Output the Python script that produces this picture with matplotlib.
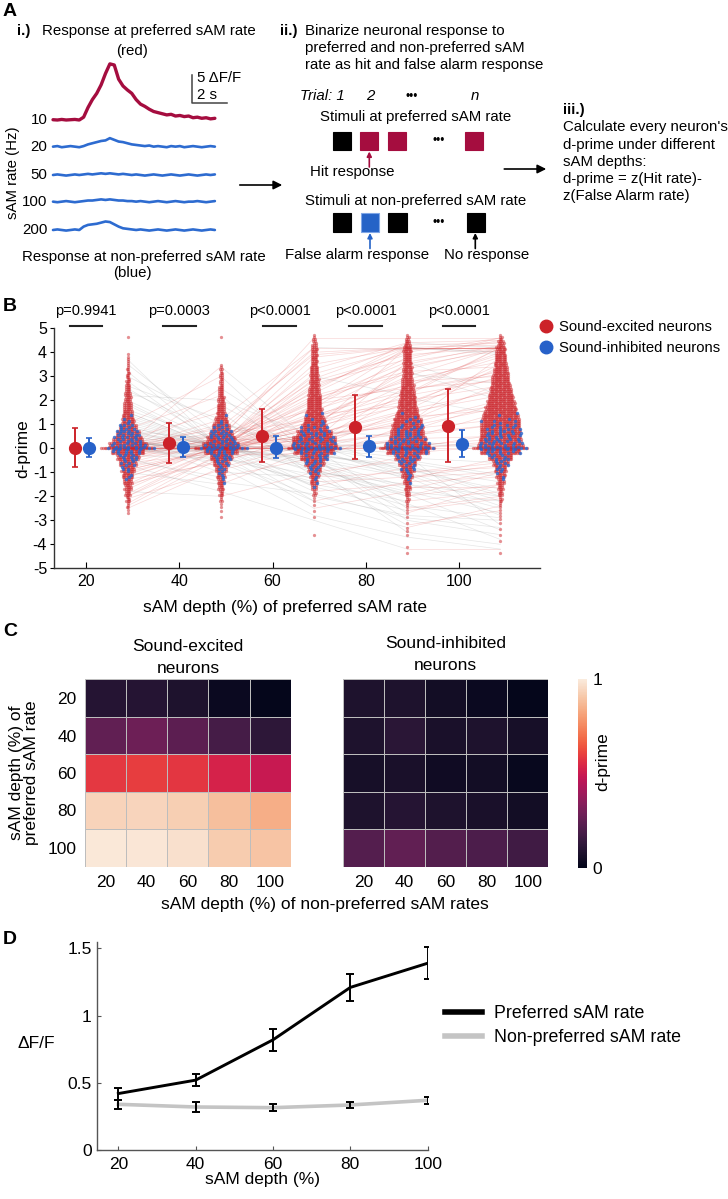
import numpy as np
import matplotlib
matplotlib.use("Agg")
import matplotlib.pyplot as plt
from matplotlib.patches import Rectangle
from matplotlib.lines import Line2D
import seaborn as sns

W, H = 728, 1199
plt.rcParams['font.family'] = ['Liberation Sans', 'DejaVu Sans']
plt.rcParams['axes.unicode_minus'] = False

# =========================
# data
# =========================
# A.i) example traces, dF/F every 0.25 s
trace_dt = 0.25
trace_rates = ["10", "20", "50", "100", "200"]
trace_10 = [0.05, 0.0, 0.1, 0.0, 0.05, 0.1, 0.0, 0.5, 2.2, 3.6, 4.7, 6.2, 8.2, 9.9, 9.7, 7.2,
            6.0, 5.3, 4.7, 3.6, 2.8, 2.4, 1.9, 1.5, 1.3, 1.1, 0.9, 1.0, 0.7, 0.8, 0.6, 0.7,
            0.4, 0.5, 0.3, 0.4, 0.2, 0.3]
trace_20 = [0.0, 0.1, -0.1, 0.0, 0.1, 0.0, -0.1, 0.1, 0.4, 0.6, 0.8, 1.0, 1.1, 1.5, 1.2, 0.9,
            0.8, 0.6, 0.4, 0.3, 0.2, 0.1, 0.2, 0.0, 0.1, 0.0, -0.1, 0.1, 0.0, 0.1, -0.1, 0.0,
            0.1, 0.0, -0.1, 0.0, 0.1, 0.0]
trace_50 = [0.0, 0.1, 0.0, -0.1, 0.0, 0.1, 0.0, 0.1, 0.2, 0.1, 0.2, 0.3, 0.2, 0.3, 0.2, 0.1,
            0.2, 0.1, 0.0, 0.1, 0.0, -0.1, 0.0, 0.1, 0.0, -0.1, 0.0, 0.1, 0.0, -0.1, 0.0, 0.1,
            0.0, -0.1, 0.0, 0.1, 0.0, 0.1]
trace_100 = [0.0, -0.1, 0.0, 0.1, 0.0, -0.1, 0.0, 0.1, 0.2, 0.2, 0.3, 0.4, 0.3, 0.4, 0.3, 0.2,
             0.2, 0.1, 0.1, 0.0, 0.1, 0.0, -0.1, 0.0, 0.1, 0.0, -0.1, 0.0, 0.1, 0.0, -0.1, 0.0,
             0.0, 0.1, 0.0, -0.1, 0.0, 0.1]
trace_200 = [0.0, 0.1, 0.0, -0.1, 0.0, 0.1, 0.0, 0.6, 0.9, 1.0, 1.1, 1.3, 1.5, 1.4, 1.0, 0.6,
             0.3, 0.2, 0.1, 0.0, 0.1, 0.0, -0.1, 0.0, 0.1, 0.0, -0.1, 0.0, 0.1, 0.0, -0.1, 0.0,
             0.1, 0.0, -0.1, 0.0, 0.1, 0.0]

# A.ii) binarized trials
pref_trials = ["none", "hit", "hit", "hit"]
nonpref_trials = ["none", "fa", "none", "none"]

# B: d-prime per sAM depth, neuron counts per 0.25-wide d-prime bin
depths = [20, 40, 60, 80, 100]
p_labels = ["p=0.9941", "p=0.0003", "p<0.0001", "p<0.0001", "p<0.0001"]
dprime_bin_lo = np.arange(-4.5, 4.75, 0.25)   # 37 bins, -4.5 ... 4.5
exc_counts = {
    20:  [0, 0, 0, 0, 0, 0, 0, 2, 4, 7, 10, 13, 15, 18, 21, 26, 33, 49,
          57, 44, 32, 25, 21, 19, 16, 14, 12, 10, 8, 7, 5, 4, 3, 2, 0, 0, 1],
    40:  [0, 0, 0, 0, 0, 0, 1, 1, 2, 4, 7, 10, 11, 13, 17, 24, 33, 49,
          55, 43, 33, 27, 23, 18, 15, 13, 11, 9, 7, 6, 5, 4, 0, 0, 0, 0, 1],
    60:  [0, 0, 0, 1, 0, 0, 1, 1, 1, 2, 5, 8, 12, 15, 19, 29, 43, 63,
          71, 70, 55, 43, 38, 32, 29, 27, 25, 21, 18, 17, 16, 14, 12, 11, 11, 7, 4],
    80:  [1, 1, 0, 1, 2, 1, 1, 2, 3, 5, 8, 11, 12, 17, 21, 26, 39, 66,
          71, 58, 52, 52, 50, 42, 37, 33, 30, 26, 23, 20, 18, 17, 16, 15, 16, 10, 5],
    100: [1, 0, 1, 1, 1, 1, 2, 2, 3, 5, 8, 10, 12, 15, 18, 24, 37, 64,
          71, 66, 65, 66, 69, 66, 60, 54, 48, 42, 37, 33, 29, 25, 22, 20, 18, 12, 5],
}
inh_counts = {
    20:  [0] * 12 + [1, 2, 4, 6, 9, 13, 15, 12, 13, 8, 3, 1] + [0] * 13,
    40:  [0] * 12 + [2, 3, 4, 6, 9, 13, 15, 11, 11, 6, 2, 1] + [0] * 13,
    60:  [0] * 11 + [1, 2, 3, 5, 7, 9, 13, 15, 12, 11, 7, 3, 2] + [0] * 13,
    80:  [0] * 12 + [2, 3, 5, 7, 9, 13, 15, 13, 11, 8, 4, 2] + [0] * 13,
    100: [0] * 12 + [1, 2, 4, 6, 8, 12, 15, 14, 13, 10, 5, 2] + [0] * 13,
}
exc_zero = [26, 26, 26, 27, 27]     # neurons with d-prime exactly 0
inh_zero = [8, 8, 8, 8, 8]

exc_mean = [0.03, 0.21, 0.51, 0.90, 0.94]
exc_lo = [-0.77, -0.63, -0.56, -0.45, -0.56]
exc_hi = [0.86, 1.04, 1.62, 2.22, 2.46]
inh_mean = [0.02, 0.06, 0.03, 0.08, 0.19]
inh_lo = [-0.38, -0.35, -0.40, -0.36, -0.35]
inh_hi = [0.42, 0.48, 0.50, 0.52, 0.76]

# d-prime of individual neurons across the 5 depths
neuron_dprime = [
    [0.0, 0.3, 2.5, 4.2, 4.2], [0.2, 0.0, 3.1, 4.2, 4.2], [-0.5, 0.5, 4.2, 4.2, 4.3],
    [1.0, 0.0, 1.8, 4.2, 4.0], [0.0, 1.2, 4.2, 4.1, 4.2], [-1.2, 0.0, 2.0, 3.6, 4.2],
    [0.4, -0.3, 1.2, 3.0, 4.2], [0.0, 0.0, 0.8, 4.2, 4.2], [2.0, 0.2, 3.8, 4.2, 4.2],
    [-0.8, 0.4, 2.8, 3.9, 4.2], [0.0, 0.1, 1.0, 2.0, 2.6], [-0.4, 0.0, 0.6, 1.5, 2.2],
    [0.3, -0.2, 1.4, 2.4, 3.2], [-1.5, -0.5, 0.3, 1.2, 1.8], [0.0, 0.6, 1.6, 2.8, 3.0],
    [-2.0, -0.3, 0.5, 1.0, 2.0], [0.5, 0.0, 0.9, 1.8, 3.5], [-0.2, 0.2, 2.2, 3.2, 3.4],
    [1.5, 0.0, 0.4, 1.3, 1.6], [-1.0, -1.5, 0.0, 0.8, 1.2], [0.0, 0.0, 0.0, 1.6, 2.4],
    [-0.6, 0.3, 1.1, 2.1, 1.4], [0.2, 0.8, 0.2, 2.6, 3.8], [0.0, -0.6, 0.7, 0.5, 1.0],
    [0.0, 0.0, 0.0, 0.0, 0.0], [0.1, -0.1, 0.2, 0.0, 0.3], [-0.3, 0.2, -0.2, 0.4, 0.5],
    [0.5, 0.0, 0.0, 0.0, 0.6], [1.5, 0.0, -0.5, -1.2, -1.0], [2.5, 0.2, -1.0, -1.5, -2.0],
    [3.5, 0.5, -0.3, -0.8, -1.4], [0.8, -0.3, -1.5, -2.2, -1.8], [0.0, -0.5, -2.0, -2.8, -3.0],
    [1.2, 0.0, -0.8, -3.5, -4.0], [0.3, -1.0, -1.2, -1.0, -0.6], [-2.3, -0.2, -2.5, -1.8, -2.2],
    [3.0, 1.0, 0.0, -0.6, -1.2], [0.6, 0.0, -1.8, -1.5, -2.5], [2.2, 2.0, 0.5, -1.0, -0.8],
    [-1.8, -2.0, -1.0, -2.0, -1.5], [1.0, 3.0, -0.5, -1.6, -1.6], [0.0, 2.5, 0.0, -2.5, -2.0],
    [-0.7, -1.8, -3.0, -4.2, -4.2], [0.4, 1.5, -1.2, -0.3, -3.2], [-2.0, 0.0, 1.0, 3.3, 4.2],
    [-1.5, 0.2, 2.0, 2.5, 2.8], [-1.0, 0.0, -0.5, 1.0, 3.8], [-2.5, -0.8, 0.2, 0.6, 1.0],
    [-1.2, 0.1, 3.5, 4.2, 4.0], [-0.8, 0.0, 1.4, 1.8, 3.0], [0.0, 0.4, 4.6, 4.6, 4.6],
    [0.9, 0.0, 2.6, 4.0, 4.6], [-0.3, -0.4, -1.4, -1.2, -2.8], [0.2, 0.0, -0.6, -2.0, -1.0],
    [1.8, 0.0, 0.0, -1.3, -0.4], [0.0, 1.0, 0.3, 3.6, 2.2], [-0.5, -1.2, -0.4, -3.0, -3.6],
    [0.6, 0.2, 3.0, 2.2, 4.2],
    [0.0, 0.2, 1.9, 3.4, 4.1], [-0.3, 0.0, 1.3, 2.9, 3.6], [0.1, 0.5, 2.3, 4.1, 4.4],
    [0.0, -0.2, 0.9, 2.7, 3.9], [-0.9, 0.0, 1.7, 3.8, 4.5], [0.0, 0.3, 3.3, 4.4, 4.2],
    [0.7, 0.1, 2.1, 3.1, 2.7], [-0.4, 0.6, 1.2, 2.3, 4.2], [0.0, 0.0, 0.5, 1.9, 3.3],
    [0.3, -0.1, 2.9, 4.3, 4.4], [-1.7, 0.0, 0.8, 2.2, 2.9], [0.0, 0.9, 3.9, 4.2, 3.9],
    [0.2, 0.0, 1.5, 3.5, 4.3], [-0.2, 0.4, 0.4, 1.4, 2.5], [0.0, 0.0, 2.7, 3.7, 4.6],
    [1.1, 0.0, 0.6, 0.9, 1.7], [-0.6, -0.2, 0.0, 2.4, 3.1], [0.0, 0.7, 4.0, 4.2, 4.2],
    [0.4, 0.0, 1.0, 3.2, 2.0], [-1.1, 0.2, 0.3, 1.1, 2.7], [2.8, 0.0, -0.4, -1.1, -2.4],
    [1.6, 0.3, -1.6, -2.6, -2.1], [0.9, 0.0, -0.9, -1.9, -3.4], [2.4, 0.6, -0.2, -0.9, -1.7],
    [0.0, -0.4, -1.1, -3.2, -2.6], [1.3, 0.0, -2.2, -1.4, -1.2], [3.2, 0.0, -0.7, -2.3, -3.8],
    [0.5, -0.8, -2.8, -3.7, -4.2], [0.0, 1.8, -0.3, -0.7, -1.9], [1.9, 0.0, -1.3, -2.4, -2.9],
    [-0.4, -1.4, -1.9, -2.9, -3.3], [0.7, 0.4, -0.6, -1.7, -0.9], [0.0, -0.3, -0.2, -1.0, -2.2],
    [2.6, 1.2, -1.0, -0.5, -1.1], [0.2, 3.4, 0.2, -1.2, -0.7], [1.4, 0.0, -0.4, -2.7, -1.5],
    [0.0, 0.0, -1.6, -0.8, -2.0], [-1.3, -0.6, -2.2, -3.3, -2.4], [3.7, 0.0, 0.0, -0.4, -0.6],
    [0.8, 2.2, -0.9, -1.8, -2.7], [-2.1, -0.9, 0.0, 0.4, 1.5], [-1.6, 0.0, 0.6, 1.6, 3.4],
    [-2.4, -0.4, 1.8, 2.6, 4.0], [-0.9, 0.0, 0.2, 0.7, 1.9], [-1.9, 0.0, 2.4, 4.4, 4.5],
    [0.0, 0.0, 0.1, 0.0, 0.2], [0.2, 0.0, 0.0, 0.3, 0.0], [-0.2, 0.1, 0.0, -0.2, 0.1],
    [0.0, -0.1, 0.3, 0.2, 0.0], [0.3, 0.0, -0.1, 0.1, 0.4],
]

# C: mean d-prime, rows = preferred depth, cols = non-preferred depth
heat_labels = ["20", "40", "60", "80", "100"]
heat_excited = [
    [0.10, 0.10, 0.08, 0.03, 0.01],
    [0.25, 0.28, 0.24, 0.18, 0.12],
    [0.585, 0.595, 0.58, 0.53, 0.49],
    [0.935, 0.94, 0.925, 0.885, 0.84],
    [0.99, 0.985, 0.97, 0.915, 0.895],
]
heat_inhibited = [
    [0.08, 0.08, 0.05, 0.03, 0.01],
    [0.08, 0.11, 0.07, 0.08, 0.06],
    [0.06, 0.07, 0.04, 0.05, 0.02],
    [0.08, 0.10, 0.08, 0.07, 0.05],
    [0.22, 0.25, 0.215, 0.20, 0.17],
]

# D: dF/F vs depth
pref_df = [0.42, 0.52, 0.82, 1.21, 1.39]
pref_err = [0.045, 0.043, 0.08, 0.10, 0.12]
nonpref_df = [0.34, 0.32, 0.315, 0.335, 0.37]
nonpref_err = [0.035, 0.037, 0.028, 0.022, 0.025]

# =========================
# colours
# =========================
RED = '#cc2229'
BLUE = '#2761c9'
CRIMSON = '#a50d3f'
TRACE_BLUE = '#2d6bd0'

fig = plt.figure(figsize=(W / 100, H / 100), dpi=100)


def fx(x):
    return x / W


def fy(y):
    return 1 - y / H


def put(x, y, s, **kw):
    kw.setdefault('va', 'center')
    kw.setdefault('ha', 'left')
    fig.text(fx(x), fy(y), s, **kw)


canvas = fig.add_axes([0, 0, 1, 1])
canvas.set_xlim(0, W)
canvas.set_ylim(H, 0)
canvas.axis('off')

FS_A = 10.8

# =========================
# Panel A
# =========================
put(3, 11, 'A', fontsize=14, weight='bold')
put(16.5, 31, 'i.)', fontsize=FS_A, weight='bold')
put(42, 31, 'Response at preferred sAM rate', fontsize=FS_A)
put(132, 50.5, '(red)', fontsize=FS_A, ha='center')
put(22, 256.5, 'Response at non-preferred sAM rate', fontsize=FS_A)
put(132, 273, '(blue)', fontsize=FS_A, ha='center')
put(13, 173, 'sAM rate (Hz)', fontsize=FS_A, rotation=90, ha='center')

axT = fig.add_axes([fx(45), fy(240), 190 / W, 190 / H])
px_per_s, px_per_df = 17.5, 5.67
axT.set_xlim((45 - 53) / px_per_s, (235 - 53) / px_per_s)
axT.set_ylim((120 - 240) / px_per_df, (120 - 50) / px_per_df)
axT.axis('off')
row_offsets = [0, -4.7, -9.7, -14.4, -19.4]
traces = [trace_10, trace_20, trace_50, trace_100, trace_200]
for i, (lab, tr) in enumerate(zip(trace_rates, traces)):
    t = np.arange(len(tr)) * trace_dt
    col = CRIMSON if i == 0 else TRACE_BLUE
    axT.plot(t, np.array(tr) + row_offsets[i], color=col, lw=2.4 if i == 0 else 1.9,
             solid_capstyle='round')
    put(47.5, 120 - row_offsets[i] * px_per_df, lab, fontsize=FS_A, ha='right')
# scale bar 5 dF/F, 2 s
sx, sy = (191.7 - 53) / px_per_s, (120 - 103.3) / px_per_df
axT.plot([sx, sx, sx + 2], [sy + 5, sy, sy], color='#444444', lw=1.1)
put(197, 78, '5 ΔF/F', fontsize=FS_A)
put(197, 95, '2 s', fontsize=FS_A)

canvas.annotate('', xy=(285, 185), xytext=(237, 185),
                arrowprops=dict(arrowstyle='-|>', lw=1.2, color='k', mutation_scale=13))

# A.ii
put(280, 30.5, 'ii.)', fontsize=FS_A, weight='bold')
put(305, 30.5, 'Binarize neuronal response to', fontsize=FS_A)
put(305, 48, 'preferred and non-preferred sAM', fontsize=FS_A)
put(305, 65, 'rate as hit and false alarm response', fontsize=FS_A)
put(300, 96.5, 'Trial: 1', fontsize=FS_A, style='italic')
put(370, 96.5, '2', fontsize=FS_A, style='italic', ha='center')
put(411.5, 97, '•••', fontsize=8.5, ha='center')
put(475, 96.5, 'n', fontsize=FS_A, style='italic', ha='center')
put(320, 116.5, 'Stimuli at preferred sAM rate', fontsize=FS_A)
put(305, 201.5, 'Stimuli at non-preferred sAM rate', fontsize=FS_A)

box_colors = {'none': 'black', 'hit': CRIMSON, 'fa': '#2563c7'}
row1_x = [332.7, 360, 387.7, 465]
row2_x = [332.7, 361, 388.3, 466.7]
for xs, kinds, ytop in [(row1_x, pref_trials, 131.7), (row2_x, nonpref_trials, 213.3)]:
    for x0, kind in zip(xs, kinds):
        ec = '#7fa6e6' if kind == 'fa' else box_colors[kind]
        canvas.add_patch(Rectangle((x0, ytop), 18.3, 18.3, facecolor=box_colors[kind],
                                   edgecolor=ec, lw=0.8))
    put(439, ytop + 9.5, '•••', fontsize=8.5, ha='center')

for x, y0, y1, c in [(369.3, 167, 151.5, CRIMSON), (370, 248.5, 233, '#2563c7'),
                     (475.3, 248.5, 233, 'black')]:
    canvas.annotate('', xy=(x, y1), xytext=(x, y0),
                    arrowprops=dict(arrowstyle='-|>', lw=1.2, color=c, mutation_scale=7,
                                    shrinkA=0, shrinkB=0))
put(310, 172, 'Hit response', fontsize=FS_A)
put(285, 254.5, 'False alarm response', fontsize=FS_A)
put(444, 254.5, 'No response', fontsize=FS_A)

canvas.annotate('', xy=(549, 169), xytext=(501.5, 169),
                arrowprops=dict(arrowstyle='-|>', lw=1.2, color='k', mutation_scale=13))

# A.iii
put(563, 110, 'iii.)', fontsize=FS_A, weight='bold')
for yy, s in zip([127.3, 144.7, 161.7, 179, 196],
                 ["Calculate every neuron's", 'd-prime under different', 'sAM depths:',
                  'd-prime = z(Hit rate)-', 'z(False Alarm rate)']):
    put(563, yy, s, fontsize=FS_A)

# =========================
# Panel B
# =========================
put(3, 306.5, 'B', fontsize=14, weight='bold')
axB = fig.add_axes([fx(54), fy(568.3), (540 - 54) / W, 240 / H])
axB.set_xlim(13.1, 117.4)
axB.set_ylim(-5, 5)


def swarm_layout(red_counts, blue_counts, red_zero, blue_zero, dx=0.34):
    red_pts, blue_pts = [], []
    groups = [(lo + 0.125, 0.25, r, b) for lo, r, b in zip(dprime_bin_lo, red_counts, blue_counts)]
    groups.append((0.0, 0.0, red_zero, blue_zero))
    for yc, hgt, nr, nb in groups:
        n = nr + nb
        if n == 0:
            continue
        nrows = 1 if hgt == 0 else min(3, n)
        slots = []
        for j in range(nrows):
            m = len(range(j, n, nrows))
            y = yc - hgt / 2 + (j + 0.5) * hgt / nrows
            offs = (np.arange(m) - (m - 1) / 2) * dx + (dx / 2 if (j % 2 and m % 2 == 0) else 0)
            slots += [(o, y) for o in offs]
        # spread the inhibited neurons through the bin in a scrambled (golden ratio) order
        order = sorted(range(n), key=lambda i: ((i + 1) * 0.6180339887) % 1.0)
        blue_idx = set(order[:nb])
        for i, s in enumerate(slots):
            (blue_pts if i in blue_idx else red_pts).append(s)
    return np.array(red_pts).reshape(-1, 2), np.array(blue_pts).reshape(-1, 2)


swarm_shift, exc_shift, inh_shift = 8.9, -2.3, 0.7

# connecting lines between consecutive depths
traj = np.array(neuron_dprime)
for i in range(len(depths) - 1):
    x0, x1 = depths[i] + swarm_shift, depths[i + 1] + swarm_shift
    for v0, v1 in traj[:, i:i + 2]:
        up = v1 >= v0
        axB.plot([x0, x1], [v0, v1], color='#e04848' if up else '#8f8f8f',
                 alpha=0.22, lw=0.5, zorder=1)

for k, d in enumerate(depths):
    rp, bp = swarm_layout(exc_counts[d], inh_counts[d], exc_zero[k], inh_zero[k])
    xc = d + swarm_shift
    axB.scatter(xc + rp[:, 0], rp[:, 1], s=5.5, color=RED, alpha=0.5, lw=0, zorder=2)
    axB.scatter(xc + bp[:, 0], bp[:, 1], s=6, color=BLUE, alpha=0.8, lw=0, zorder=3)

xe = np.array(depths) + exc_shift
xi = np.array(depths) + inh_shift
axB.errorbar(xe, exc_mean, yerr=[np.array(exc_mean) - exc_lo, np.array(exc_hi) - exc_mean],
             fmt='o', color=RED, ms=8.5, elinewidth=1.4, capsize=2.4, capthick=1.2, zorder=4)
axB.errorbar(xi, inh_mean, yerr=[np.array(inh_mean) - inh_lo, np.array(inh_hi) - inh_mean],
             fmt='o', color=BLUE, ms=8.5, elinewidth=1.4, capsize=2.4, capthick=1.2, zorder=4)

bracket_centers = [20, 40, 61.5, 80, 100]
for c, lab in zip(bracket_centers, p_labels):
    axB.plot([c - 3.5, c + 3.5], [5.11, 5.11], color='#222222', lw=1.5, clip_on=False)
    axB.text(c, 5.7, lab, ha='center', va='center', fontsize=10.5)

axB.set_xticks(depths)
axB.set_xticklabels([str(d) for d in depths])
axB.set_yticks(range(-5, 6))
axB.tick_params(axis='x', direction='in', length=4, labelsize=11.5, pad=4)
axB.tick_params(axis='y', direction='out', length=3, labelsize=11.5, pad=2)
for sp in ['top', 'right']:
    axB.spines[sp].set_visible(False)
for sp in ['left', 'bottom']:
    axB.spines[sp].set_color('#333333')
    axB.spines[sp].set_linewidth(1.0)
axB.set_ylabel('d-prime', fontsize=12.5, labelpad=2)
put(285, 607.5, 'sAM depth (%) of preferred sAM rate', fontsize=12.5, ha='center')

leg_handles = [Line2D([], [], marker='o', ls='', color=RED, ms=9),
               Line2D([], [], marker='o', ls='', color=BLUE, ms=9)]
axB.legend(leg_handles, ['Sound-excited neurons', 'Sound-inhibited neurons'],
           loc='upper left', bbox_to_anchor=(fx(540), fy(320)), bbox_transform=fig.transFigure,
           frameon=False, handlelength=0.8, handletextpad=0.45, labelspacing=0.5,
           fontsize=10.7, borderaxespad=0, borderpad=0)

# =========================
# Panel C
# =========================
put(3, 632, 'C', fontsize=14, weight='bold')
cmap = sns.color_palette("rocket", as_cmap=True)
heat_w, heat_h = 205.7 / W, 187.4 / H
axC1 = fig.add_axes([fx(85), fy(866.7), heat_w, heat_h])
axC2 = fig.add_axes([fx(342.7), fy(866.7), heat_w, heat_h])
for ax, mat in [(axC1, heat_excited), (axC2, heat_inhibited)]:
    mesh = ax.pcolormesh(np.arange(6), np.arange(6), np.array(mat), cmap=cmap, vmin=0, vmax=1,
                         edgecolors='#bdbdbd', linewidth=0.6)
    ax.set_xlim(0, 5)
    ax.set_ylim(5, 0)
    ax.set_xticks(np.arange(5) + 0.5)
    ax.set_xticklabels(heat_labels)
    ax.set_yticks(np.arange(5) + 0.5)
    ax.set_yticklabels(heat_labels)
    ax.tick_params(length=0, labelsize=12.5, pad=6)
    for sp in ax.spines.values():
        sp.set_visible(False)
axC2.set_yticklabels([])
axC1.set_ylabel('sAM depth (%) of\npreferred sAM rate', fontsize=12.5, labelpad=6,
                linespacing=1.05)
put(187.9, 646.5, 'Sound-excited', fontsize=12.5, ha='center')
put(187.9, 668.3, 'neurons', fontsize=12.5, ha='center')
put(445.5, 643.5, 'Sound-inhibited', fontsize=12.5, ha='center')
put(445.5, 665, 'neurons', fontsize=12.5, ha='center')
put(325, 905, 'sAM depth (%) of non-preferred sAM rates', fontsize=12.5, ha='center')

cax = fig.add_axes([fx(577.7), fy(868), 9 / W, 189 / H])
cb = fig.colorbar(mesh, cax=cax, ticks=[0, 1])
cb.outline.set_visible(False)
cax.set_yticklabels(['0', '1'])
cax.tick_params(length=0, labelsize=12.5, pad=4)
put(603, 762, 'd-prime', fontsize=12.5, rotation=90, ha='center')

# =========================
# Panel D
# =========================
put(3, 939, 'D', fontsize=14, weight='bold')
axD = fig.add_axes([fx(96.7), fy(1150), (427.7 - 96.7) / W, 208.3 / H])
axD.set_xlim(14.4, 100)
axD.set_ylim(0, 1.55)
axD.plot(depths, nonpref_df, color='#c4c4c4', lw=2.6, zorder=2,
         label='Non-preferred sAM rate')
axD.plot(depths, pref_df, color='black', lw=2.1, zorder=3, label='Preferred sAM rate')
axD.errorbar(depths, nonpref_df, yerr=nonpref_err, fmt='none', ecolor='black', elinewidth=1.4,
             capsize=3.2, capthick=1.4, zorder=4)
axD.errorbar(depths, pref_df, yerr=pref_err, fmt='none', ecolor='black', elinewidth=1.4,
             capsize=3.2, capthick=1.4, zorder=4)
axD.set_xticks(depths)
axD.set_xticklabels([str(d) for d in depths])
axD.set_yticks([0, 0.5, 1, 1.5])
axD.set_yticklabels(['0', '0.5', '1', '1.5'])
axD.tick_params(direction='in', length=3, labelsize=12.5, color='#555555')
axD.tick_params(axis='x', pad=5)
for sp in ['top', 'right']:
    axD.spines[sp].set_visible(False)
for sp in ['left', 'bottom']:
    axD.spines[sp].set_color('#555555')
    axD.spines[sp].set_linewidth(1.0)
axD.set_xlabel('sAM depth (%)', fontsize=12.5, labelpad=0)
axD.set_ylabel('ΔF/F', fontsize=12.5, rotation=0, ha='center', va='center')
axD.yaxis.set_label_coords((36 - 96.7) / 331, (1150 - 1043.3) / 208.3)

legD = [Line2D([], [], color='black', lw=4), Line2D([], [], color='#c4c4c4', lw=4)]
axD.legend(legD, ['Preferred sAM rate', 'Non-preferred sAM rate'], loc='upper left',
           bbox_to_anchor=(fx(445), fy(1005)), bbox_transform=fig.transFigure,
           frameon=False, handlelength=2.1, handletextpad=0.63, labelspacing=0.38,
           fontsize=12.8, borderaxespad=0, borderpad=0)

fig.savefig('out.png', dpi=100)
